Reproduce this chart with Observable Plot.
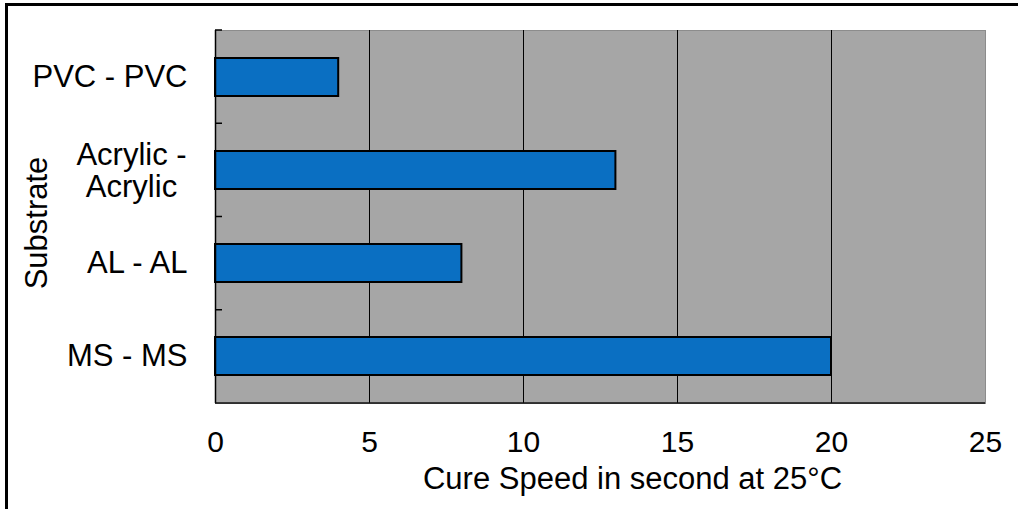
<!DOCTYPE html>
<html><head><meta charset="utf-8">
<script src="https://cdn.jsdelivr.net/npm/d3@7"></script>
<script src="https://cdn.jsdelivr.net/npm/@observablehq/plot@0.6"></script>
<style>
html,body{margin:0;padding:0;background:#fff;}
#wrap{position:relative;width:1020px;height:509px;overflow:hidden;}
#border{position:absolute;left:5px;top:3px;width:1010px;height:520px;border-left:3px solid #000;border-top:3px solid #000;pointer-events:none;}
</style></head><body>
<div id="wrap"><div id="chart"></div><div id="border"></div></div>
<script>
const categories = ["PVC - PVC", "Acrylic - Acrylic", "AL - AL", "MS - MS"];
const values = [4, 13, 8, 20];
const yLabels = ["PVC - PVC", "Acrylic -\nAcrylic", "AL - AL", "MS - MS"];
const xTicks = [0, 5, 10, 15, 20, 25];
const gridValues = [5, 10, 15, 20];

const data = categories.map((c, i) => ({category: c, value: values[i], label: yLabels[i]}));
const padInner = 0.59;

function axisDecor(index, scales, vals, dims) {
  const top = dims.marginTop;
  const bottom = dims.height - dims.marginBottom;
  const left = dims.marginLeft;
  const right = dims.width - dims.marginRight;
  const step = (bottom - top) / categories.length;
  const g = d3.create("svg:g");
  g.append("line").attr("x1", left).attr("x2", right).attr("y1", bottom).attr("y2", bottom)
    .attr("stroke", "#111").attr("stroke-width", 1.5);
  for (let i = 0; i < categories.length; i++) {
    const yy = top + i * step;
    g.append("line").attr("x1", left).attr("x2", left + 7).attr("y1", yy).attr("y2", yy)
      .attr("stroke", "#000").attr("stroke-width", 1.5);
  }
  return g.node();
}

const chart = Plot.plot({
  width: 1020, height: 509,
  marginLeft: 215, marginRight: 35, marginTop: 30, marginBottom: 106,
  style: {fontFamily: "'Liberation Sans', Arial, sans-serif", background: "transparent", color: "#000"},
  x: {domain: [0, 25], axis: null},
  y: {domain: categories, paddingInner: padInner, paddingOuter: padInner / 2, axis: null},
  marks: [
    Plot.frame({fill: "#a6a6a6", stroke: "#8c8c8c"}),
    Plot.ruleX(gridValues, {stroke: "#000", strokeWidth: 1}),
    Plot.barX(data, {x: "value", y: "category", fill: "#0a6fc2", stroke: "#000", strokeWidth: 2}),
    Plot.ruleX([0], {stroke: "#000", strokeWidth: 1.5}),
    Plot.ruleX([0], {render: axisDecor}),
    Plot.axisX({ticks: xTicks, tickSize: 0, tickPadding: 27, fontSize: 30, label: null, fill: "#000"}),
    Plot.text(data.filter(d => !d.label.includes("\n")), {y: "category", text: "label", frameAnchor: "left", textAnchor: "end", dx: -28, fontSize: 31, fill: "#000"}),
    Plot.text(data.filter(d => d.label.includes("\n")), {y: "category", text: "label", frameAnchor: "left", textAnchor: "middle", dx: -84, fontSize: 31, lineHeight: 1.03, fill: "#000"}),
    Plot.text(["Substrate"], {text: d => d, frameAnchor: "left", textAnchor: "middle", lineAnchor: "middle", rotate: -90, dx: -178, dy: 6, fontSize: 31, fill: "#000"}),
    Plot.text(["Cure Speed in second at 25°C"], {text: d => d, frameAnchor: "bottom", textAnchor: "middle", lineAnchor: "middle", dy: 76, dx: 32, fontSize: 31, fill: "#000"})
  ]
});
document.getElementById("chart").appendChild(chart);
</script>
</body></html>
